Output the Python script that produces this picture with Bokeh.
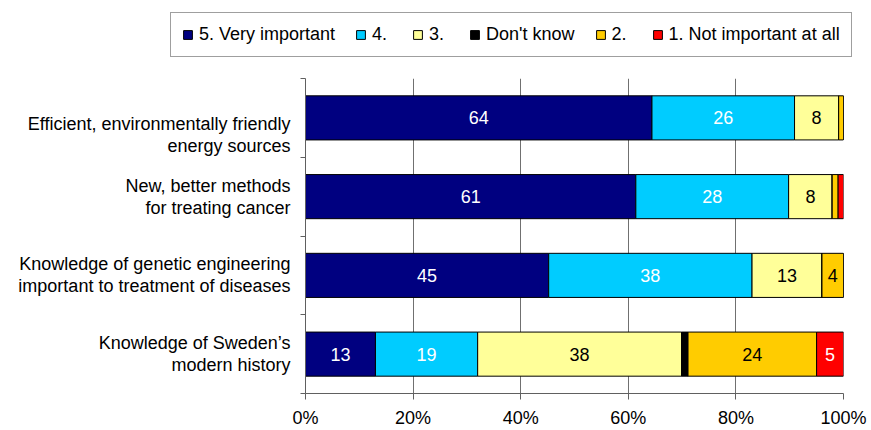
from bokeh.plotting import figure
from bokeh.layouts import column
from bokeh.models import ColumnDataSource, FixedTicker, Range1d, Legend, LegendItem
from bokeh.core.properties import value
from bokeh.embed import file_html
from bokeh.resources import INLINE

# ---- data ----
categories = [
    "Efficient, environmentally friendly\nenergy sources",
    "New, better methods\nfor treating cancer",
    "Knowledge of genetic engineering\nimportant to treatment of diseases",
    "Knowledge of Sweden\u2019s\nmodern history",
]
series_names = ["5. Very important", "4.", "3.", "Don't know", "2.", "1. Not important at all"]
very_important = [64.4, 61.4, 45.2, 13.0]
four = [26.5, 28.4, 37.8, 19.0]
three = [8.2, 8.1, 13.0, 37.9]
dont_know = [0.0, 0.0, 0.0, 1.2]
two = [0.9, 1.1, 4.0, 23.9]
not_important = [0.0, 1.0, 0.0, 5.0]
x_ticks = [0, 20, 40, 60, 80, 100]
x_tick_labels = ["0%", "20%", "40%", "60%", "80%", "100%"]

# ---- style ----
colors = ["#000080", "#00CCFF", "#FFFF99", "#000000", "#FFCC00", "#FF0000"]
label_colors = ["white", "white", "black", "black", "black", "white"]
label_shift = [0.22, 0.0, 0.0, 0.0]  # vertical nudge of category labels (band units)
FONT = "Liberation Sans"
FS = "18px"
AX = "#606060"

series = [very_important, four, three, dont_know, two, not_important]
keys = ["s%d" % i for i in range(len(series))]
n = len(categories)
ypos = [n - i - 0.5 for i in range(n)]

data = {"y": ypos}
for k, s in zip(keys, series):
    data[k] = s
src = ColumnDataSource(data)

# ---------- legend strip (its own small figure, so the legend is not clipped) ----------
pl = figure(width=871, height=78, output_backend="svg", toolbar_location=None,
            x_range=Range1d(0, 100), y_range=Range1d(n + 1, n + 2),
            x_axis_type=None, y_axis_type=None,
            min_border_left=0, min_border_right=0, min_border_top=0, min_border_bottom=0)
pl.frame_align = False
pl.outline_line_color = None
pl.xgrid.grid_line_color = None
pl.ygrid.grid_line_color = None
swatches = pl.hbar_stack(keys, y="y", height=0.56, color=colors, line_color="black",
                         line_width=1, source=src)
lg = Legend(items=[LegendItem(label=nm, renderers=[r]) for nm, r in zip(series_names, swatches)])
lg.orientation = "horizontal"
lg.location = (170, 21)
lg.border_line_color = "#404040"
lg.border_line_width = 1
lg.background_fill_color = "white"
lg.background_fill_alpha = 1
lg.glyph_width = 11
lg.glyph_height = 11
lg.label_standoff = 6
lg.spacing = 20
lg.padding = 11
lg.margin = 0
lg.label_text_font = FONT
lg.label_text_font_size = FS
lg.label_text_color = "black"
pl.add_layout(lg, "center")

# ---------- main chart ----------
p = figure(width=871, height=352, output_backend="svg", toolbar_location=None,
           x_range=Range1d(0, 100), y_range=Range1d(0, n),
           min_border_left=305, min_border_right=28, min_border_top=0,
           min_border_bottom=36)
p.frame_align = False
p.outline_line_color = None

p.hbar_stack(keys, y="y", height=0.56, color=colors, line_color="black",
             line_width=1, source=src)

# bar value labels
lx, ly, lt, lc = [], [], [], []
for ci in range(n):
    left = 0.0
    for si, s in enumerate(series):
        v = s[ci]
        if v >= 3.5:
            lx.append(left + v / 2)
            ly.append(ypos[ci])
            lt.append(str(int(round(v))))
            lc.append(label_colors[si])
        left += v
p.text(x=lx, y=ly, text=lt, text_color=lc, text_align="center",
       text_baseline="middle", text_font=value(FONT), text_font_size=FS)

# x axis
xa = p.xaxis[0]
xa.ticker = FixedTicker(ticks=x_ticks)
xa.major_label_overrides = {t: l for t, l in zip(x_ticks, x_tick_labels)}
xa.major_tick_out = 6
xa.major_tick_in = 0
xa.minor_tick_line_color = None
xa.axis_line_color = AX
xa.major_tick_line_color = AX
xa.major_label_standoff = 8
xa.major_label_text_font = FONT
xa.major_label_text_font_size = FS
xa.major_label_text_color = "black"

# y axis
label_pos = [y - s for y, s in zip(ypos, label_shift)]
ya = p.yaxis[0]
ya.ticker = FixedTicker(ticks=label_pos, minor_ticks=list(range(n + 1)))
ya.major_label_overrides = {y: c for y, c in zip(label_pos, categories)}
ya.major_tick_line_color = None
ya.major_tick_out = 0
ya.major_tick_in = 0
ya.minor_tick_out = 5
ya.minor_tick_in = 0
ya.minor_tick_line_color = AX
ya.axis_line_color = AX
ya.major_label_standoff = 10
ya.major_label_text_font = FONT
ya.major_label_text_font_size = FS
ya.major_label_text_color = "black"
ya.major_label_text_align = "right"
ya.major_label_text_line_height = 1.1

p.xgrid.grid_line_color = "#707070"
p.ygrid.grid_line_color = None

layout = column(pl, p, spacing=0)
open("out.html", "w").write(file_html(layout, INLINE))
